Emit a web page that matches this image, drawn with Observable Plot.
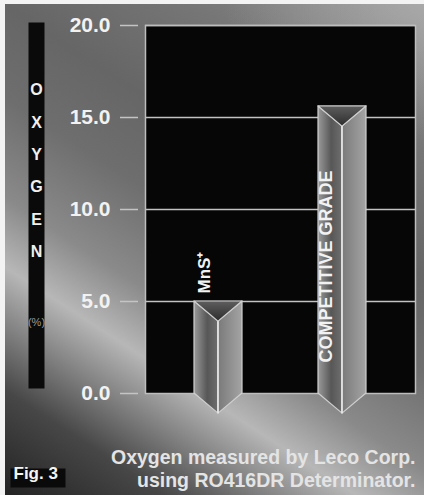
<!DOCTYPE html>
<html>
<head>
<meta charset="utf-8">
<script src="https://cdn.jsdelivr.net/npm/d3@7"></script>
<script src="https://cdn.jsdelivr.net/npm/@observablehq/plot@0.6"></script>
<style>
  html, body { margin: 0; padding: 0; background: #fff; }
  #chart {
    position: relative;
    width: 424px;
    height: 495px;
    overflow: hidden;
    background:
      radial-gradient(ellipse 200px 140px at 100% 0%, rgba(190,190,190,0.5), rgba(190,190,190,0)),
      linear-gradient(33deg, #222 0%, #474747 14%, #b7b7b7 30%, #8a8a8a 39%, #6e6e6e 52%, #666 64%, #767676 80%, #959595 100%);
    box-shadow: inset 5px 4px 0 #f3f3f3;
  }
  #chart svg { display: block; }
</style>
</head>
<body>
<div id="chart"></div>
<script>
// Oxygen content of the two steel grades (%)
const categories = ["MnS+", "COMPETITIVE GRADE"];
const barLabels = ["MnS\u207A", "COMPETITIVE GRADE"];
const oxygen = [5.0, 15.6];

// Axis ticks and gridlines
const yTicks = [0, 5, 10, 15, 20];
const gridTicks = [5, 10, 15, 20];

// Annotation text
const axisLetters = ["O", "X", "Y", "G", "E", "N"];
const unitLabel = "(%)";
const noteLines = ["Oxygen measured by Leco Corp.", "using RO416DR Determinator."];
const figLabel = "Fig. 3";

const bars = categories.map((category, i) => ({category, label: barLabels[i], oxygen: oxygen[i]}));

const font = "'Liberation Sans', Arial, Helvetica, sans-serif";

// Draws each bar as a triangular prism: two shaded side faces meeting at a
// front edge, a V-shaped top face and a pointed foot below the baseline.
function prisms(index, scales) {
  const {x, y} = scales;
  const bw = x.bandwidth();
  const depth = bw * 0.42;
  const g = d3.create("svg:g");
  const defs = g.append("defs");
  const gradient = (id, stops, vertical = false) => {
    const lg = defs.append("linearGradient").attr("id", id)
      .attr("x1", "0%").attr("y1", "0%")
      .attr("x2", vertical ? "0%" : "100%").attr("y2", vertical ? "100%" : "0%");
    for (const [o, c] of stops) lg.append("stop").attr("offset", o).attr("stop-color", c);
  };
  gradient("prism-left", [[0, "#9a9a9a"], [0.55, "#575757"], [1, "#6e6e6e"]]);
  gradient("prism-right", [[0, "#7a7a7a"], [1, "#a4a4a4"]]);
  gradient("prism-top", [[0, "#5e5e5e"], [1, "#2c2c2c"]], true);
  const pts = (p) => p.map((d) => d.join(",")).join(" ");
  for (const b of bars) {
    const x0 = x(b.category), x1 = x0 + bw, xm = x0 + bw / 2;
    const yt = y(b.oxygen), yb = y(0);
    const s = g.append("g")
      .attr("stroke", "#cfcfcf").attr("stroke-width", 1.2).attr("stroke-linejoin", "round");
    s.append("polygon").attr("fill", "url(#prism-left)")
      .attr("points", pts([[x0, yt], [xm, yt + depth], [xm, yb + depth], [x0, yb]]));
    s.append("polygon").attr("fill", "url(#prism-right)")
      .attr("points", pts([[xm, yt + depth], [x1, yt], [x1, yb], [xm, yb + depth]]));
    s.append("polygon").attr("fill", "url(#prism-top)")
      .attr("points", pts([[x0, yt], [x1, yt], [xm, yt + depth]]));
    s.append("line").attr("stroke", "#ececec").attr("stroke-width", 1.4)
      .attr("x1", xm).attr("x2", xm).attr("y1", yt + depth).attr("y2", yb + depth);
  }
  return g.node();
}

const chart = Plot.plot({
  width: 424,
  height: 495,
  marginLeft: 145,
  marginRight: 9,
  marginTop: 25,
  marginBottom: 102,
  style: {fontFamily: font, background: "transparent", overflow: "visible", color: "#f0f0f0"},
  x: {domain: categories, type: "band", paddingInner: 0.615, paddingOuter: 0.39, axis: null},
  y: {domain: [0, 20], axis: null},
  marks: [
    // plotting area
    Plot.frame({fill: "#060606", stroke: "none"}),
    Plot.gridY(gridTicks, {stroke: "#c2c2c2", strokeOpacity: 1, strokeWidth: 1.5}),
    Plot.frame({stroke: "#bdbdbd", strokeWidth: 1.5}),

    // bars
    prisms,

    // bar labels
    Plot.text(bars.filter((d) => d.category === "MnS+"), {
      x: "category", y: "oxygen", text: "label", rotate: -90,
      textAnchor: "start", dx: -14, dy: -8,
      fontSize: 17, fontWeight: "bold", fill: "#f2f2f2"
    }),
    Plot.text(bars.filter((d) => d.category === "COMPETITIVE GRADE"), {
      x: "category", frameAnchor: "bottom", text: "label", rotate: -90,
      textAnchor: "start", dx: -11, dy: -31,
      fontSize: 18, fontWeight: "bold", fill: "#f2f2f2"
    }),

    // y axis
    Plot.axisY({
      ticks: yTicks, tickFormat: (d) => d.toFixed(1), label: null,
      tickSize: 18, tickPadding: 10, dx: -7,
      stroke: "#c4c4c4", strokeWidth: 1.5, strokeOpacity: 1,
      fill: "#f2f2f2", fontSize: 21, fontWeight: "bold"
    }),

    // vertical "OXYGEN (%)" title column
    Plot.frame({fill: "#0a0a0a", stroke: "none", insetLeft: -117, insetRight: 371, insetTop: -3, insetBottom: 5}),
    Plot.text([axisLetters.join("\n")], {
      text: (d) => d, frameAnchor: "top-left", dx: -109, dy: 47,
      lineAnchor: "top", lineHeight: 2.02, textAnchor: "middle",
      fontSize: 16, fontWeight: "bold", fill: "#f0f0f0"
    }),
    Plot.text([unitLabel], {
      text: (d) => d, frameAnchor: "top-left", dx: -109, dy: 293,
      textAnchor: "middle", fontSize: 11, fill: "#9a9a9a"
    }),

    // source note
    Plot.text([noteLines.join("\n")], {
      text: (d) => d, frameAnchor: "bottom-right", dy: 55,
      lineAnchor: "top", lineHeight: 1.14, textAnchor: "end",
      fontSize: 19.5, fontWeight: "bold", fill: "#e4e4e4"
    }),

    // figure tag
    Plot.frame({fill: "#0a0a0a", stroke: "none", insetLeft: -135, insetRight: 350, insetTop: 443, insetBottom: -94}),
    Plot.text([figLabel], {
      text: (d) => d, frameAnchor: "bottom-left", dx: -132, dy: 85,
      textAnchor: "start", fontSize: 17, fontWeight: "bold", fill: "#f4f4f4"
    })
  ]
});

document.getElementById("chart").append(chart);
</script>
</body>
</html>
